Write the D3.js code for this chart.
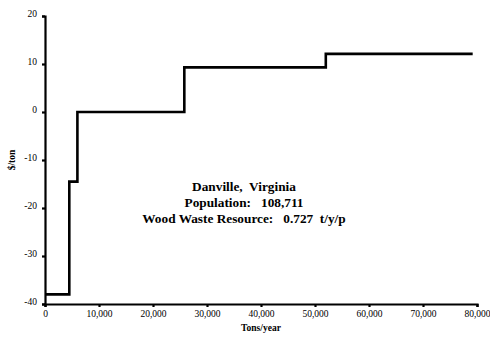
<!DOCTYPE html>
<html>
<head>
<meta charset="utf-8">
<script src="https://cdn.jsdelivr.net/npm/d3@7"></script>
<style>
  body { margin: 0; background: #fff; }
  text { font-family: "Liberation Serif", "Times New Roman", serif; fill: #000; }
</style>
</head>
<body>
<div class="chart"></div>
<script>
"use strict";

// Step curve: cost ($/ton) vs cumulative supply (tons/year)
const tons = [0, 4500, 6000, 25800, 52000, 79200];
const cost = [-38, -14.5, 0, 9.3, 12.1, 12.1];

const xTicks = [0, 10000, 20000, 30000, 40000, 50000, 60000, 70000, 80000];
const yTicks = [20, 10, 0, -10, -20, -30, -40];

const notes = ["Danville,  Virginia", "Population:   108,711", "Wood Waste Resource:   0.727  t/y/p"];

const width = 490, height = 339;
const margin = {top: 16, right: 13, bottom: 35, left: 45};

const svg = d3.select(".chart").append("svg")
  .attr("width", width)
  .attr("height", height);

const x = d3.scaleLinear().domain([0, 80000]).range([margin.left, width - margin.right]);
const y = d3.scaleLinear().domain([-40, 20]).range([height - margin.bottom, margin.top]);

// axes
const xAxis = svg.append("g")
  .attr("transform", `translate(0, ${y(-40)})`)
  .call(d3.axisBottom(x).tickValues(xTicks).tickSize(3).tickFormat(d3.format(",")));
const yAxis = svg.append("g")
  .attr("transform", `translate(${x(0)}, 0)`)
  .call(d3.axisLeft(y).tickValues(yTicks).tickSize(3).tickFormat(d => String(d)));

[xAxis, yAxis].forEach(g => {
  g.attr("font-family", null);
  g.select(".domain").attr("stroke", "#000").attr("stroke-width", 2.2);
  g.selectAll(".tick line").attr("stroke", "#000").attr("stroke-width", 2.2);
  g.selectAll("text").style("font-size", "9.5px").attr("fill", "#222");
});
xAxis.selectAll("text").attr("dy", "0.75em");
yAxis.selectAll("text").attr("dx", "-2").attr("dy", "0.1em");

// step line
const pts = tons.map((t, i) => [t, cost[i]]);
const line = d3.line().x(d => x(d[0])).y(d => y(d[1])).curve(d3.curveStepAfter);
svg.append("path")
  .datum(pts)
  .attr("d", line)
  .attr("fill", "none")
  .attr("stroke", "#000")
  .attr("stroke-width", 2.6);

// annotation
svg.selectAll(".note")
  .data(notes)
  .enter()
  .append("text")
  .attr("class", "note")
  .attr("x", 244)
  .attr("y", (d, i) => 191 + i * 16)
  .attr("text-anchor", "middle")
  .style("font-weight", "bold")
  .style("font-size", "13.3px")
  .style("white-space", "pre")
  .text(d => d);

// axis titles
svg.append("text")
  .attr("x", x(40000))
  .attr("y", 331)
  .attr("text-anchor", "middle")
  .style("font-weight", "bold")
  .style("font-size", "9.5px")
  .text("Tons/year");

svg.append("text")
  .attr("transform", `translate(15, ${y(-10)}) rotate(-90)`)
  .attr("text-anchor", "middle")
  .style("font-weight", "bold")
  .style("font-size", "9.5px")
  .text("$/ton");
</script>
</body>
</html>
